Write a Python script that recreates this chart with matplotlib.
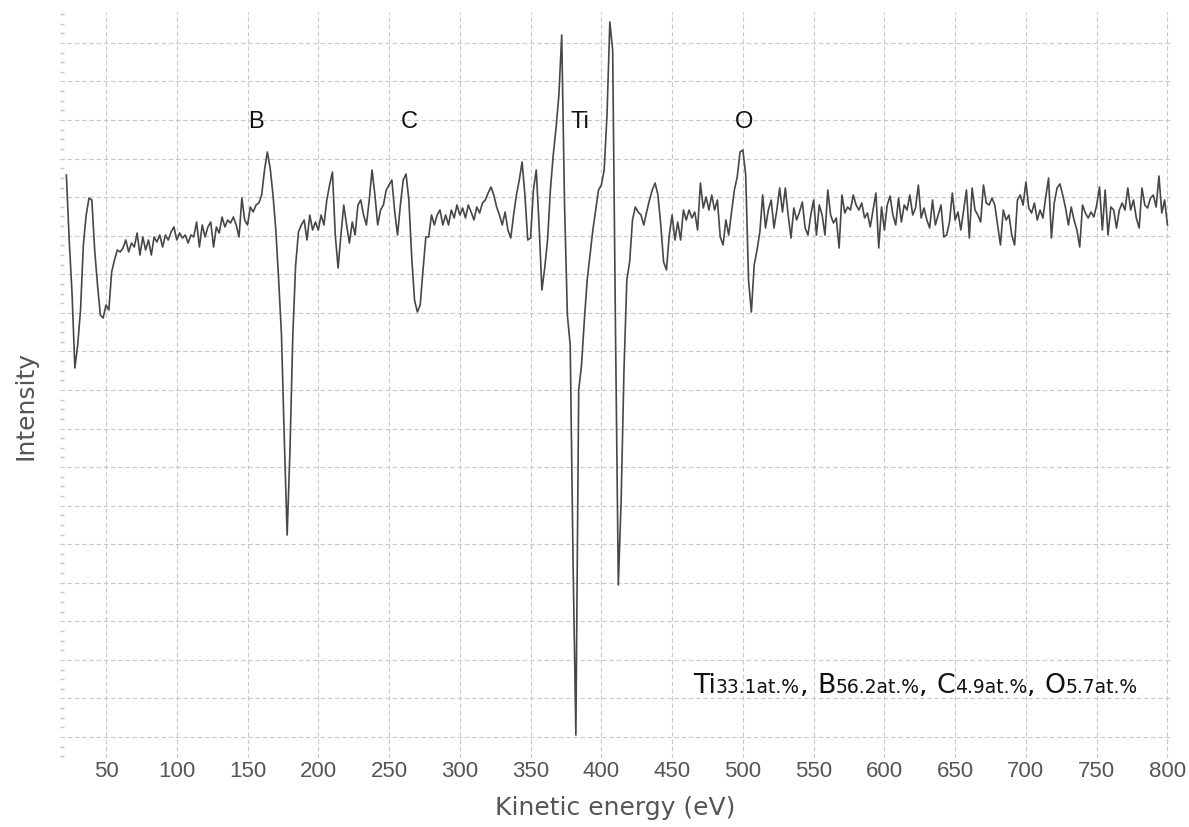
import numpy as np
import matplotlib
matplotlib.use('Agg')
import matplotlib.pyplot as plt
from matplotlib.transforms import IdentityTransform

# AES spectrum in 2 eV steps (arbitrary intensity units)
seg_start = [22, 62, 160, 294, 342, 428, 616]
seg_vals = [
    [585, 520, 467, 392, 415, 450, 515, 545, 562, 560, 510, 475, 445, 442, 455,
     450, 488, 500, 510, 508],
    [512, 520, 508, 517, 513, 527, 505, 523, 510, 520, 505, 523, 518, 525, 513,
     525, 520, 528, 533, 520, 527, 522, 525, 517, 525, 523, 538, 513, 535, 523,
     533, 538, 513, 533, 527, 543, 533, 540, 537, 543, 535, 523, 562, 540, 535,
     553, 548, 555, 557],
    [565, 590, 608, 592, 565, 530, 480, 425, 320, 225, 310, 425, 495, 528, 535,
     540, 520, 545, 530, 538, 530, 545, 535, 560, 575, 588, 525, 492, 525, 555,
     535, 517, 538, 525, 555, 560, 545, 535, 560, 590, 565, 535, 550, 555, 570,
     575, 580, 548, 525, 555, 580, 586, 560, 503, 460, 448, 455, 490, 523, 523,
     545, 535, 545, 550, 535, 545, 535],
    [550, 542, 555, 545, 552, 542, 555, 548, 540, 553, 547, 557, 560, 567, 573,
     565, 553, 545, 535, 548, 530, 522, 545, 565],
    [580, 598, 565, 520, 522, 570, 590, 535, 470, 492, 520, 570, 605, 632, 665,
     725, 555, 445, 415, 200, 25, 370, 395, 440, 480, 505, 530, 550, 570, 575,
     590, 645, 738, 710, 430, 175, 260, 390, 480, 498, 540, 553, 548],
    [545, 535, 548, 560, 570, 577, 565, 535, 498, 490, 525, 545, 520, 538, 520,
     550, 540, 550, 542, 548, 530, 577, 552, 563, 550, 565, 550, 560, 523, 515,
     540, 525, 548, 570, 583, 608, 610, 585, 480, 448, 495, 510, 528, 565, 532,
     550, 560, 532, 550, 572, 548, 572, 545, 522, 552, 540, 548, 558, 532, 525,
     545, 560, 525, 555, 545, 525, 570, 545, 537, 542, 512, 565, 547, 553, 550,
     565, 555, 550, 557, 542, 547, 533, 550, 567, 512, 553, 530, 555, 564, 545,
     535, 562, 538, 555],
    [550, 565, 545, 552, 575, 542, 552, 540, 532, 560, 535, 545, 555, 523, 525,
     538, 567, 540, 548, 530, 550, 570, 522, 572, 550, 545, 538, 575, 557, 555,
     562, 555, 535, 515, 550, 540, 545, 525, 515, 560, 565, 555, 578, 552, 547,
     557, 540, 550, 542, 563, 582, 522, 557, 572, 576, 565, 552, 535, 553, 540,
     530, 513, 555, 547, 542, 548, 543, 555, 573, 530, 570, 525, 553, 550, 532,
     550, 557, 550, 572, 550, 560, 542, 532, 572, 555, 552, 562, 565, 553, 584,
     547, 560, 535],
]
energy = np.concatenate([s + 2 * np.arange(len(v)) for s, v in zip(seg_start, seg_vals)])
intensity = np.concatenate([np.array(v, float) for v in seg_vals])

peak_names = ['B', 'C', 'Ti', 'O']
peak_energy = [156, 264, 385, 501]
peak_label_y = 638

comp_parts = [('Ti', '33.1at.%'), ('B', '56.2at.%'), ('C', '4.9at.%'), ('O', '5.7at.%')]

W, H = 1189, 827
fig = plt.figure(figsize=(W / 100, H / 100), dpi=100)
ax = fig.add_axes([60 / W, 1 - 758 / H, 1110 / W, 746 / H])

ax.plot(energy, intensity, color='#474747', lw=1.2)

ax.set_xlim(17.5, 801.8)
ax.set_ylim(2, 748)
ax.set_xticks(np.arange(50, 801, 50))
ax.set_yticks(23 + 38.56 * np.arange(19))
ax.set_yticks(23 + 38.56 / 4 * np.arange(-2, 76), minor=True)
ax.set_yticklabels([])
ax.grid(True, which='major', color='#c8c8c8', lw=0.8, ls=(0, (4, 2.5)))
for s in ax.spines.values():
    s.set_visible(False)
ax.tick_params(axis='x', length=0, pad=2, labelsize=16, labelcolor='#555555')
ax.tick_params(axis='y', which='major', length=0)
ax.tick_params(axis='y', which='minor', direction='in', length=3, width=1, color='#c4c4c4')
for lab in ax.get_xticklabels():
    lab.set_fontfamily('Liberation Sans')

ax.set_xlabel('Kinetic energy (eV)', fontsize=18, color='#555555', labelpad=10)
ax.set_ylabel('Intensity', fontsize=18, color='#555555')
ax.yaxis.set_label_coords(-0.02, 0.473)

for n, e in zip(peak_names, peak_energy):
    ax.text(e, peak_label_y, n, fontsize=17, family='Liberation Sans',
            ha='center', va='center', color='#111111')

# composition line, big element symbol followed by smaller percentage
fig.canvas.draw()
r = fig.canvas.get_renderer()
x0, y0 = ax.transData.transform((464.8, 67))
x = x0
for i, (el, pct) in enumerate(comp_parts):
    pieces = [(el, 19.3), (pct, 13.5)]
    if i < len(comp_parts) - 1:
        pieces.append((', ', 19.3))
    for s, size in pieces:
        t = fig.text(x, y0, s, fontsize=size, family='DejaVu Sans', color='#111111',
                     va='baseline', ha='left', transform=IdentityTransform())
        x = t.get_window_extent(r).x1

fig.savefig('out.png', dpi=100)
